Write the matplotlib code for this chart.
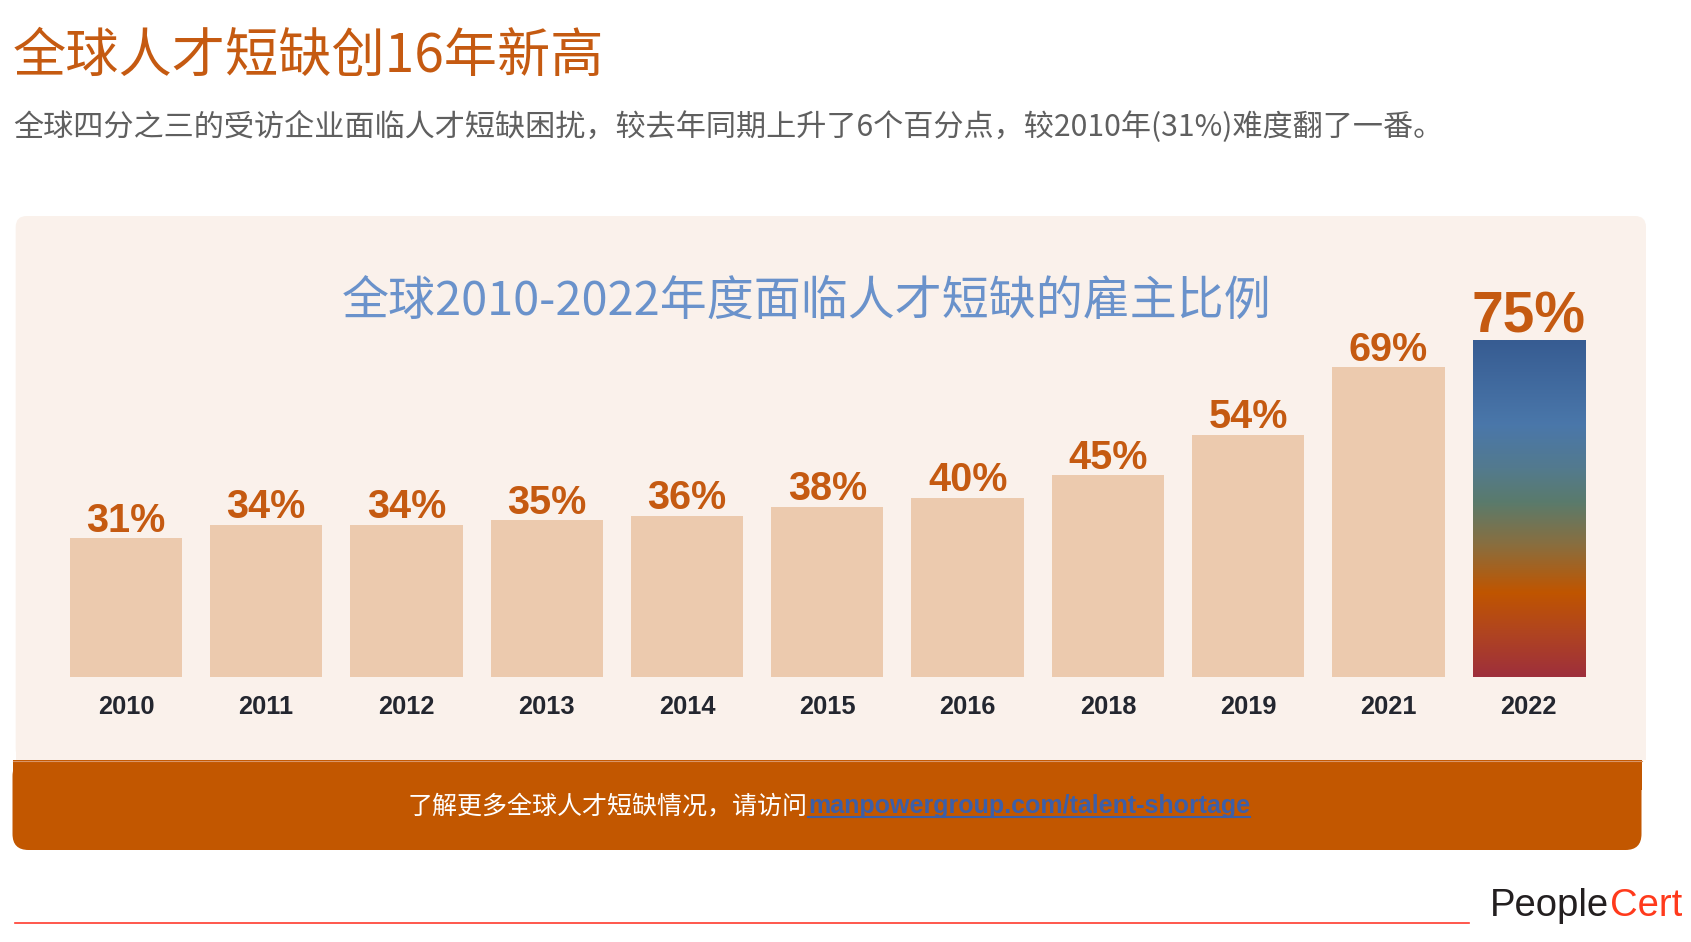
import matplotlib
matplotlib.use("Agg")
import matplotlib.pyplot as plt
import numpy as np
from matplotlib.patches import FancyBboxPatch, Rectangle
from matplotlib.colors import LinearSegmentedColormap

# ---------------- data ----------------
years = ["2010", "2011", "2012", "2013", "2014", "2015", "2016", "2018", "2019", "2021", "2022"]
values = [31, 34, 34, 35, 36, 38, 40, 45, 54, 69, 75]

title = "全球人才短缺创16年新高"
subtitle = "全球四分之三的受访企业面临人才短缺困扰，较去年同期上升了6个百分点，较2010年(31%)难度翻了一番。"
chart_title = "全球2010-2022年度面临人才短缺的雇主比例"
footer_cn = "了解更多全球人才短缺情况，请访问"
footer_link = "manpowergroup.com/talent-shortage"

# ---------------- style ----------------
plt.rcParams["font.family"] = ["Liberation Sans", "DejaVu Sans"]
CJK = ["Noto Sans CJK SC", "DejaVu Sans"]
ORANGE = "#C55A11"
BAND = "#C25700"
PANEL = "#FAF1EB"
BAR = "#ECCAAE"

W, H = 1691, 942
fig = plt.figure(figsize=(W / 100, H / 100), dpi=100)
fig.patch.set_facecolor("white")

# decoration layer in pixel coordinates
deco = fig.add_axes([0, 0, 1, 1], zorder=0)
deco.set_xlim(0, W)
deco.set_ylim(H, 0)
deco.axis("off")

deco.add_patch(FancyBboxPatch((15.7, 216), 1630.3, 544, boxstyle="round,pad=0,rounding_size=11",
                              fc=PANEL, ec="none"))
deco.add_patch(Rectangle((15.7, 700), 1630.3, 60, fc=PANEL, ec="none"))
deco.add_patch(FancyBboxPatch((12.5, 760), 1629, 90, boxstyle="round,pad=0,rounding_size=16",
                              fc=BAND, ec="none"))
deco.add_patch(Rectangle((12.5, 760), 1629, 30, fc=BAND, ec="none"))
deco.plot([12.5, 1641.5], [760.5, 760.5], color="#D99568", lw=0.8)
deco.plot([15, 1469], [923, 923], color="#FF3B2E", lw=1.2)

deco.text(13, 72, title, family=CJK, fontsize=38.3, color=ORANGE, ha="left", va="baseline")
deco.text(13, 136, subtitle, family=CJK, fontsize=21.7, color="#5F5F5F", ha="left", va="baseline")
deco.text(342, 315, chart_title, family=CJK, fontsize=33.8, color="#6A92CB", ha="left", va="baseline")

deco.text(808, 813, footer_cn, family=CJK, fontsize=18, color="white", ha="right", va="baseline")
link = deco.text(808, 813, footer_link, fontsize=18, fontweight="bold", color="#3D5FA8",
                 ha="left", va="baseline")

deco.text(1609, 916, "People", fontsize=27.5, color="#231F20", ha="right", va="baseline")
deco.text(1610, 916, "Cert", fontsize=27.5, color="#FF3A1C", ha="left", va="baseline")

# ---------------- chart ----------------
ax = fig.add_axes([0.03297, 0.2810, 0.91254, 0.4054], zorder=1)
ax.set_facecolor("none")
x = np.arange(len(years))
colors = [BAR] * (len(years) - 1) + ["none"]
bars = ax.bar(x, values, width=0.8, color=colors, edgecolor="none", zorder=2)

# gradient for the highlighted last bar
grad_colors = [(0.0, "#9E2F3C"), (0.13, "#B04420"), (0.25, "#C05500"), (0.39, "#8A6E3E"),
               (0.52, "#5A7B6C"), (0.62, "#537A8E"), (0.75, "#4A77AA"), (1.0, "#375C92")]
cmap = LinearSegmentedColormap.from_list("hl", grad_colors)
b = bars[-1]
grad = np.linspace(0, 1, 256).reshape(-1, 1)
im = ax.imshow(grad, extent=[b.get_x(), b.get_x() + b.get_width(), 0, b.get_height()],
               origin="lower", cmap=cmap, aspect="auto", zorder=2)
im.set_clip_path(b)

for i, v in enumerate(values):
    last = i == len(values) - 1
    ax.annotate(f"{v}%", (x[i], v), xytext=(0, 6 if last else 4.5), textcoords="offset points",
                ha="center", va="baseline", fontsize=41 if last else 28.5, fontweight="bold",
                color=ORANGE)

ax.set_xlim(-0.5, len(years) - 0.5)
ax.set_ylim(0, 85)
ax.set_xticks(x)
ax.set_xticklabels(years, fontsize=18.3, fontweight="bold", color="#23262F")
ax.tick_params(axis="x", length=0, pad=12.5)
ax.set_yticks([])
for s in ax.spines.values():
    s.set_visible(False)

# underline for the link
fig.canvas.draw()
bb = link.get_window_extent(fig.canvas.get_renderer())
inv = deco.transData.inverted()
(lx0, _), (lx1, _) = inv.transform([(bb.x0, bb.y0), (bb.x1, bb.y0)])
deco.plot([lx0, lx1], [816.5, 816.5], color="#3D5FA8", lw=1.5)

fig.savefig("out.png", dpi=100, facecolor="white")
